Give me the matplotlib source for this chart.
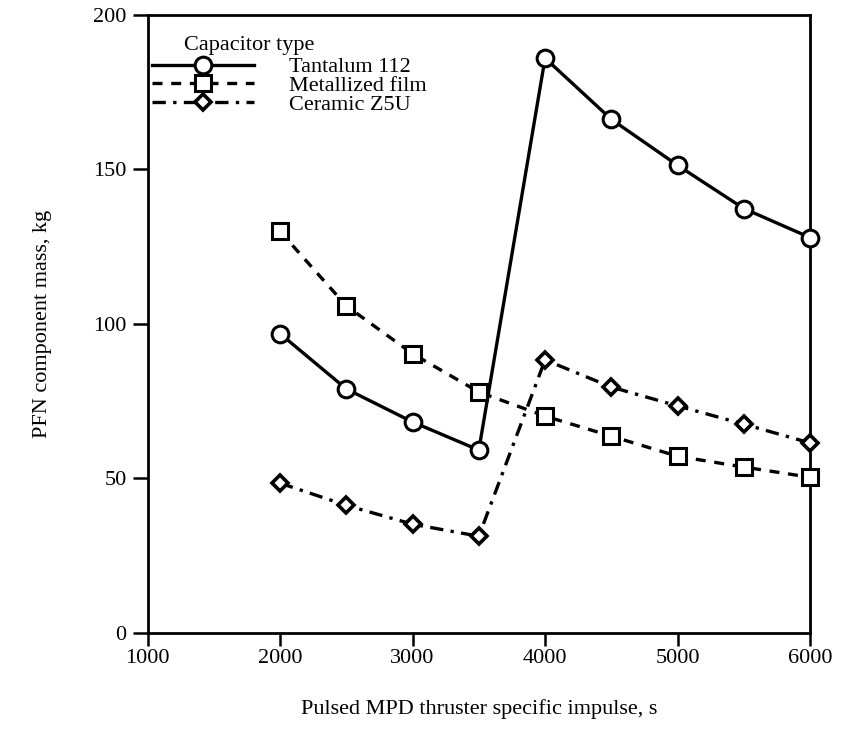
import numpy as np
import matplotlib.pyplot as plt

plt.rcParams['font.family'] = ['Liberation Serif', 'DejaVu Serif']

# data
impulse = [2000, 2500, 3000, 3500, 4000, 4500, 5000, 5500, 6000]
tantalum = [96.8, 78.9, 68.2, 59.1, 186.0, 166.2, 151.3, 137.3, 127.9]
metallized = [129.9, 105.8, 90.3, 77.9, 70.1, 63.6, 57.1, 53.6, 50.3]
ceramic = [48.4, 41.2, 35.1, 31.2, 88.3, 79.5, 73.4, 67.5, 61.4]

series_names = ["Tantalum 112", "Metallized film", "Ceramic Z5U"]
xticks = [1000, 2000, 3000, 4000, 5000, 6000]
yticks = [0, 50, 100, 150, 200]

fig = plt.figure(figsize=(8.43, 7.46), dpi=100)
ax = fig.add_axes([0.175, 0.152, 0.786, 0.828])

ax.plot(impulse, tantalum, '-', color='black', lw=2.4,
        marker='o', ms=12, mfc='white', mec='black', mew=2.2,
        label=series_names[0], clip_on=False, zorder=3)
ax.plot(impulse, metallized, color='black', lw=2.4, ls=(0, (3, 2.6)),
        marker='s', ms=11.5, mfc='white', mec='black', mew=2.2,
        label=series_names[1], clip_on=False, zorder=3)
ax.plot(impulse, ceramic, color='black', lw=2.4, ls=(0, (4, 2.2, 1, 2.2)),
        marker='D', ms=8.5, mfc='white', mec='black', mew=2.6,
        label=series_names[2], clip_on=False, zorder=3)

ax.set_xlim(1000, 6000)
ax.set_ylim(0, 200)
ax.set_xticks(xticks)
ax.set_yticks(yticks)
ax.tick_params(axis='x', direction='out', length=9, width=1.8, labelsize=16, pad=3)
ax.tick_params(axis='y', direction='out', length=11, width=1.8, labelsize=16, pad=4)
for s in ax.spines.values():
    s.set_linewidth(2.0)

ax.set_xlabel("Pulsed MPD thruster specific impulse, s", fontsize=16, labelpad=22)
ax.set_ylabel("PFN component mass, kg", fontsize=16, labelpad=30)

ax.text(0.055, 0.951, "Capacitor type", transform=ax.transAxes,
        fontsize=16, va='center', ha='left')
ax.legend(loc='upper left', bbox_to_anchor=(0.006, 0.932), frameon=False,
          fontsize=16, handlelength=4.6, handletextpad=1.6,
          labelspacing=-0.08, borderaxespad=0, borderpad=0)

fig.savefig("out.png", dpi=100)
